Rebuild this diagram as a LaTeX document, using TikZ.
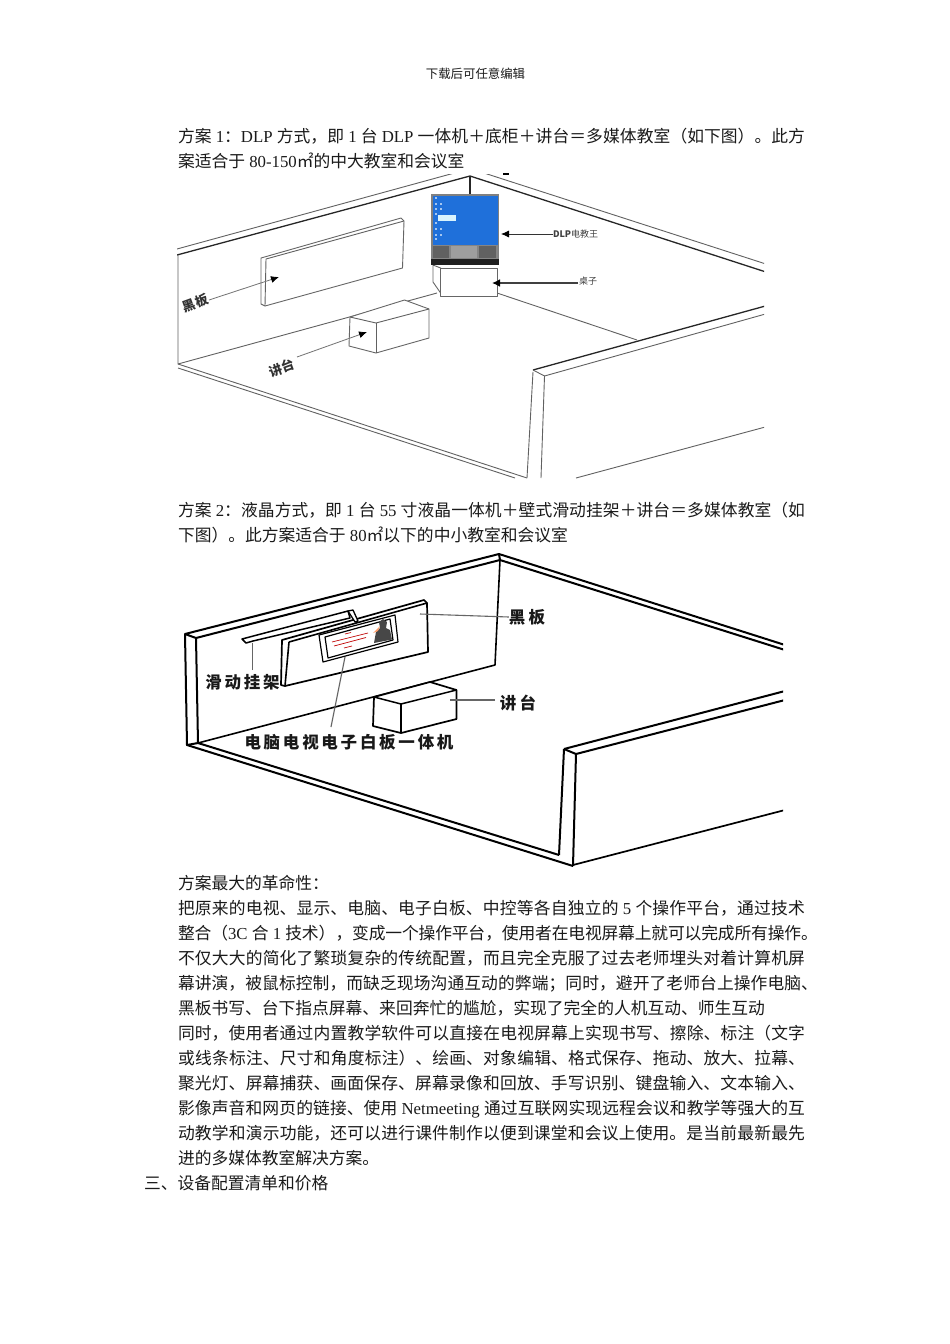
\documentclass[tikz,border=0pt]{standalone}
\usepackage{fontspec}
\usetikzlibrary{arrows.meta}
\setmainfont{Noto Sans CJK SC}
\newfontfamily\latf{Liberation Serif}
\XeTeXlinebreaklocale "zh"
\XeTeXlinebreakskip=0pt plus 3pt minus 1pt
\newcommand\lf[1]{{\latf\spaceskip=4.2pt\relax #1}}
\definecolor{txtc}{HTML}{1A1A1A}
\definecolor{scr}{HTML}{1F70DA}
\tikzset{
  textline/.style={anchor=base west,inner sep=0pt,outer sep=0pt,text=txtc,font=\fontsize{16.77}{18}\selectfont},
  thin1/.style={draw=black!62,line width=0.9pt,line join=round},
  dark1/.style={draw=black!85,line width=1.3pt,line join=round},
  obj1/.style={draw=black!60,fill=white,line width=0.9pt,line join=round},
  lab1/.style={inner sep=0pt,outer sep=0pt,text=black!80,font=\fontsize{13}{14}\selectfont\bfseries},
  small1/.style={inner sep=0pt,outer sep=0pt,text=black!75,font=\fontsize{9}{10}\selectfont},
  arr1/.style={draw=black!55,line width=0.8pt,-{Latex[length=8pt,width=7pt,black]}},
  arr2/.style={draw=black!75,line width=1.6pt,-{Latex[length=8pt,width=8pt,black]}},
  wall2/.style={draw=black,line width=2pt,line join=round},
  obj2/.style={draw=black,fill=white,line width=1.7pt,line join=round},
  lead2/.style={draw=black!60,line width=1.1pt},
  lab2/.style={inner sep=0pt,outer sep=0pt,text=black!90,font=\fontsize{16.5}{18}\selectfont\bfseries},
}
\newcommand\txtline[5]{\node[textline] (#1) at (#2,#3) {\parbox[b]{#4}{\parindent=0pt\parfillskip=0pt\tolerance=9999 #5}};}
\newcommand\natline[4]{\node[textline] (#1) at (#2,#3) {#4};}
\begin{document}
\begin{tikzpicture}[x=1pt,y=-1pt]
\useasboundingbox[fill=white] (0,0) rectangle (950,1344);
% header
\node[inner sep=0pt,text=txtc,font=\fontsize{12.4}{14}\selectfont] (hdr) at (475.5,74) {下载后可任意编辑};
% scheme 1 text
\txtline{l1}{178}{142}{627pt}{方案\lf{ 1}：\lf{DLP }方式，即\lf{ 1 }台\lf{ DLP }一体机＋底柜＋讲台＝多媒体教室（如下图）。此方}
\natline{l2}{178}{167}{案适合于\lf{ 80-150}㎡的中大教室和会议室}
% figure 1
\begin{scope}
\clip (177,174) rectangle (764,478);
\draw[thin1] (177,249) -- (458,172);
\draw[dark1] (177,255) -- (470,176) -- (769,273);
\draw[thin1] (484,173) -- (769,265);
\draw[dark1] (470,176) -- (470,195);
\draw[thin1] (178,255) -- (178,364) -- (437,293);
\draw[thin1] (178,364) -- (527,478);
\draw[thin1] (178,368) -- (515,478);
\draw[thin1] (497,293) -- (637,340);
\draw[dark1] (533,370) -- (769,305);
\draw[thin1] (544.5,376) -- (769,313);
\draw[thin1] (533,370) -- (544.5,376) -- (541,478);
\draw[thin1] (533,372) -- (527,478);
\draw[thin1] (576,478) -- (769,426);
% blackboard
\draw[obj1] (261,258) -- (401,218) -- (404,221) -- (402.5,268) -- (265,306) -- (261,304) -- cycle;
\draw[thin1] (266,259) -- (404,221);
\draw[thin1] (266,259) -- (265,306);
% podium
\draw[obj1] (350,317) -- (404.5,300) -- (429,309) -- (429,338) -- (376,353) -- (349,346) -- cycle;
\draw[thin1] (350,317) -- (376,323) -- (429,309);
\draw[thin1] (376,323) -- (376,353);
% desk
\draw[obj1] (433,265) -- (433,282) -- (440.6,293) -- (440.6,268) -- cycle;
\draw[obj1] (440.6,268) rectangle (497,296.7);
% projector
\fill[black!50] (431,194) rectangle (499,260);
\fill[scr] (432.5,196) rectangle (497.5,244.5);
\fill[black!48] (432.5,244.5) rectangle (497.5,260);
\fill[black!62] (433,246) rectangle (449,258);
\fill[black!38] (451,246) rectangle (477,258);
\fill[black!62] (479,246) rectangle (496,258);
\fill[black!88] (431,259) rectangle (499,265);
\fill[white!85!cyan] (438,215) rectangle (456,221);
\foreach \yy in {197,203,208,213,222,228,234,238} {\fill[white!60!scr] (434.5,\yy) rectangle (436.5,\yy+1.8);}
\foreach \yy in {203,208,228,234} {\fill[white!60!scr] (439.5,\yy) rectangle (441.5,\yy+1.8);}
% labels and arrows
\node[lab1,rotate=20] (heib1) at (195.5,303) {黑板};
\node[lab1,rotate=20] (jiang1) at (282,368) {讲台};
\node[small1,anchor=west] (dlp1) at (553,234) {\textbf{DLP}电教王};
\node[small1,anchor=west] (zz1) at (579,281) {桌子};
\coordinate (hbend) at (279,277);
\coordinate (hbstart) at (209,300);
\coordinate (jtstart) at (297,357);
\coordinate (jtend) at (367,332);
\coordinate (dlpend) at (501,234);
\coordinate (zzstart) at (578,283);
\coordinate (zzend) at (492,283);
\draw[arr1] (hbstart) -- (hbend);
\draw[arr1] (jtstart) -- (jtend);
\draw[arr1,draw=black!80] (dlp1.west) -- (dlpend);
\draw[arr2] (zzstart) -- (zzend);
\end{scope}
\fill[black] (503,173) rectangle (509,175.2);
% scheme 2 text
\txtline{l3}{178}{516}{627pt}{方案\lf{ 2}：液晶方式，即\lf{ 1 }台\lf{ 55 }寸液晶一体机＋壁式滑动挂架＋讲台＝多媒体教室（如}
\natline{l4}{178}{541}{下图）。此方案适合于\lf{ 80}㎡以下的中小教室和会议室}
% figure 2
\begin{scope}
\clip (178,550) rectangle (783,870);
\draw[wall2] (499,554) -- (185,634) -- (196,638) -- (500,560) -- (785,650);
\draw[wall2] (499,554) -- (785,645);
\draw[wall2] (499,554) -- (500,560);
\draw[wall2] (185,634) -- (187,745) -- (198,743) -- (196,638);
\draw[wall2,line width=1.6pt] (500,560) -- (495,665) -- (198,743);
\draw[wall2] (187,745) -- (573,866);
\draw[wall2] (198,743) -- (559,855);
\draw[wall2] (564,749) -- (785,691);
\draw[wall2] (576,754) -- (785,700);
\draw[wall2] (564,749) -- (576,754) -- (573,866);
\draw[wall2] (564,749) -- (559,855);
\draw[wall2,line width=1.7pt] (573,865) -- (785,810);
% rail
\draw[draw=black,line width=1.5pt,line join=round] (242,639) -- (348,611) -- (350,618) -- (253,641) -- (246,643) -- cycle;
% board
\draw[obj2] (282,640) -- (424,600) -- (427,603) -- (428,652) -- (285,686) -- (281,685) -- cycle;
\draw[wall2,line width=1.6pt] (289,642) -- (427,603);
\draw[wall2,line width=1.6pt] (289,642) -- (285,686);
% rail bracket over board top
\draw[draw=black,fill=white,line width=1.3pt,line join=round] (348,611) -- (353,610) -- (358,621) -- (355,622) -- cycle;
% TV
\draw[draw=black,fill=white,line width=1.2pt,line join=round] (319,635) -- (395,615) -- (398,642) -- (323,662) -- cycle;
\draw[draw=black,fill=white,line width=1.2pt,line join=round] (325,637) -- (390,619) -- (393,640) -- (328,658) -- cycle;
\foreach \aa/\ab/\ba/\bb in {345/634/351/632.5, 332/642/368/633, 334/646/366/637.5, 344/648/352/646} {\draw[red!75!black,line width=0.7pt] (\aa,\ab) -- (\ba,\bb);}
\fill[black!72] (374,643) -- (376,632) -- (380,628) -- (379,622) -- (383,619) -- (387,622) -- (386,628) -- (390,630) -- (392,639.5) -- cycle;
\fill[red!30!orange!60!white] (373,633) -- (380,626) -- (378,631) -- cycle;
% podium
\draw[obj2] (374,697) -- (430,682) -- (456.5,690) -- (456.5,719) -- (401,733) -- (373,726) -- cycle;
\draw[wall2,line width=1.5pt] (374,697) -- (401,704) -- (456.5,690);
\draw[wall2,line width=1.5pt] (401,704) -- (401,733);
% labels
\node[lab2] (gj2) at (242.5,682) {滑\,动\,挂\,架};
\node[lab2] (hb2) at (527,617) {黑\hspace{3.2pt}板};
\node[lab2] (jt2) at (518,703) {讲\hspace{3.2pt}台};
\node[lab2] (ytj2) at (349,742) {电\,脑\,电\,视\,电\,子\,白\,板\,一\,体\,机};
\coordinate (gjstart) at (252.5,670);
\coordinate (gjend) at (252.5,643);
\coordinate (hbend2) at (420,614);
\coordinate (jtstart2) at (495,700);
\coordinate (jtend2) at (450,700);
\coordinate (ytjstart) at (331,727);
\coordinate (ytjend) at (345,657);
\draw[lead2] (gjstart) -- (gjend);
\draw[lead2] (hb2.west) -- (hbend2);
\draw[lead2] (jtstart2) -- (jtend2);
\draw[lead2] (ytjstart) -- (ytjend);
\end{scope}
% body
\natline{l5}{178}{889}{方案最大的革命性：}
\txtline{l6}{178}{914}{627pt}{把原来的电视、显示、电脑、电子白板、中控等各自独立的\lf{ 5 }个操作平台，通过技术}
\txtline{l7}{178}{939}{640pt}{整合（\lf{3C }合\lf{ 1 }技术），变成一个操作平台，使用者在电视屏幕上就可以完成所有操作。}
\txtline{l8}{178}{964}{627pt}{不仅大大的简化了繁琐复杂的传统配置，而且完全克服了过去老师埋头对着计算机屏}
\txtline{l9}{178}{989}{640pt}{幕讲演，被鼠标控制，而缺乏现场沟通互动的弊端；同时，避开了老师台上操作电脑、}
\natline{l10}{178}{1014}{黑板书写、台下指点屏幕、来回奔忙的尴尬，实现了完全的人机互动、师生互动}
\txtline{l11}{178}{1039}{627pt}{同时，使用者通过内置教学软件可以直接在电视屏幕上实现书写、擦除、标注（文字}
\txtline{l12}{178}{1064}{627pt}{或线条标注、尺寸和角度标注）、绘画、对象编辑、格式保存、拖动、放大、拉幕、}
\txtline{l13}{178}{1089}{627pt}{聚光灯、屏幕捕获、画面保存、屏幕录像和回放、手写识别、键盘输入、文本输入、}
\txtline{l14}{178}{1114}{627pt}{影像声音和网页的链接、使用\lf{ Netmeeting }通过互联网实现远程会议和教学等强大的互}
\txtline{l15}{178}{1139}{627pt}{动教学和演示功能，还可以进行课件制作以便到课堂和会议上使用。是当前最新最先}
\natline{l16}{178}{1164}{进的多媒体教室解决方案。}
\natline{l17}{144}{1189}{三、设备配置清单和价格}
\end{tikzpicture}
\end{document}
